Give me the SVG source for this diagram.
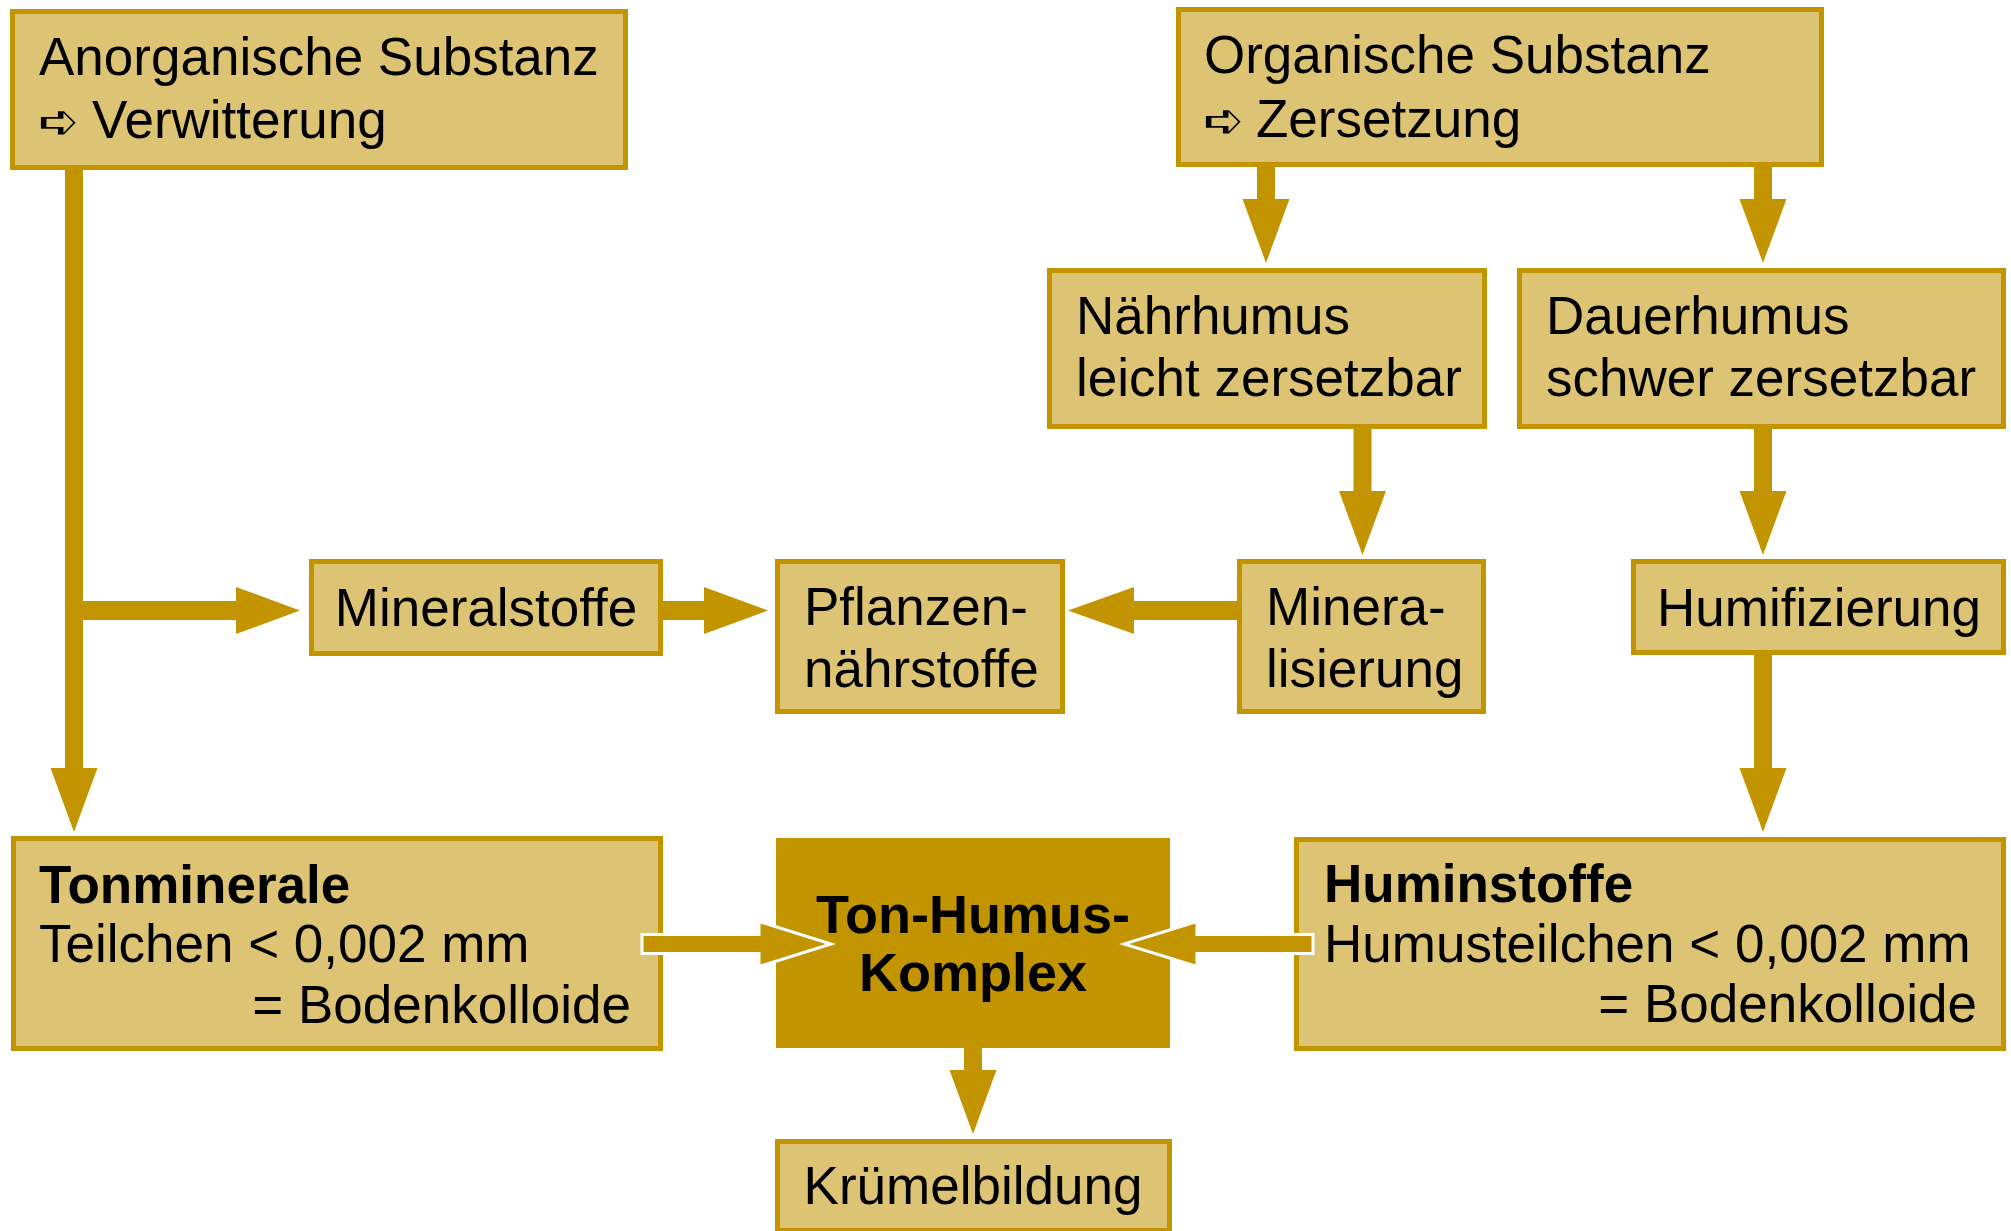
<svg xmlns="http://www.w3.org/2000/svg" width="2011" height="1231" viewBox="0 0 2011 1231">
<style>
  .box { fill: #DDC474; stroke: #C29400; stroke-width: 5; }
  .dark { fill: #C29400; }
  .arr { fill: #C29400; }
  .arrw { fill: #C29400; stroke: #FFFFFF; stroke-width: 3; stroke-linejoin: miter; }
  text { font-family: "Liberation Sans", Arial, Helvetica, sans-serif; font-size: 53px; fill: #000000; }
  .b { font-weight: bold; }
  .sym { font-family: "DejaVu Sans", sans-serif; font-size: 49px; }
</style>
<rect width="2011" height="1231" fill="#FFFFFF"/>

<g id="connectors">
  <!-- Anorganische -> Tonminerale (long vertical) -->
  <polygon class="arr" points="65,168 83,168 83,768 97.5,768 74,832 50.5,768 65,768"/>
  <!-- branch -> Mineralstoffe -->
  <polygon class="arr" points="83,601 236,601 236,587 300,610.5 236,634 236,620 83,620"/>
  <!-- Mineralstoffe -> Pflanzennaehrstoffe -->
  <polygon class="arr" points="661,601 704,601 704,587 768,610.5 704,634 704,620 661,620"/>
  <!-- Mineralisierung -> Pflanzennaehrstoffe -->
  <polygon class="arr" points="1239,601 1134,601 1134,587 1068,610.5 1134,634 1134,620 1239,620"/>
  <!-- Organische -> Naehrhumus -->
  <polygon class="arr" points="1257,165 1275,165 1275,199 1289.5,199 1266,263 1242.5,199 1257,199"/>
  <!-- Organische -> Dauerhumus -->
  <polygon class="arr" points="1754,165 1772,165 1772,199 1786.5,199 1763,263 1739.5,199 1754,199"/>
  <!-- Naehrhumus -> Mineralisierung -->
  <polygon class="arr" points="1353.5,427 1371.5,427 1371.5,491 1386,491 1362.5,555 1339,491 1353.5,491"/>
  <!-- Dauerhumus -> Humifizierung -->
  <polygon class="arr" points="1754,427 1772,427 1772,491 1786.5,491 1763,555 1739.5,491 1754,491"/>
  <!-- Humifizierung -> Huminstoffe -->
  <polygon class="arr" points="1754,653 1772,653 1772,768 1786.5,768 1763,832 1739.5,768 1754,768"/>
  <!-- Ton-Humus-Komplex -> Kruemelbildung -->
  <polygon class="arr" points="964,1046 982,1046 982,1070 996.5,1070 973,1134 949.5,1070 964,1070"/>
</g>

<g id="node-anorganisch">
  <rect class="box" x="12.5" y="11.5" width="613" height="156"/>
  <text x="39" y="75">Anorganische Substanz</text>
  <text y="138"><tspan class="sym" x="38">➪</tspan><tspan x="92">Verwitterung</tspan></text>
</g>

<g id="node-organisch">
  <rect class="box" x="1178.5" y="9.5" width="643" height="155"/>
  <text x="1204" y="73">Organische Substanz</text>
  <text y="137"><tspan class="sym" x="1203">➪</tspan><tspan x="1256">Zersetzung</tspan></text>
</g>

<g id="node-naehrhumus">
  <rect class="box" x="1049.5" y="270.5" width="435" height="156"/>
  <text x="1076" y="334">Nährhumus</text>
  <text x="1076" y="396">leicht zersetzbar</text>
</g>

<g id="node-dauerhumus">
  <rect class="box" x="1519.5" y="270.5" width="484" height="156"/>
  <text x="1546" y="334">Dauerhumus</text>
  <text x="1546" y="396">schwer zersetzbar</text>
</g>

<g id="node-mineralstoffe">
  <rect class="box" x="311.5" y="561.5" width="349" height="92"/>
  <text x="486" y="626" text-anchor="middle">Mineralstoffe</text>
</g>

<g id="node-pflanzennaehrstoffe">
  <rect class="box" x="777.5" y="561.5" width="285" height="150"/>
  <text x="804" y="625">Pflanzen-</text>
  <text x="804" y="687">nährstoffe</text>
</g>

<g id="node-mineralisierung">
  <rect class="box" x="1239.5" y="561.5" width="244" height="150"/>
  <text x="1266" y="625">Minera-</text>
  <text x="1266" y="687">lisierung</text>
</g>

<g id="node-humifizierung">
  <rect class="box" x="1633.5" y="561.5" width="370" height="91"/>
  <text x="1819" y="626" text-anchor="middle">Humifizierung</text>
</g>

<g id="node-tonminerale">
  <rect class="box" x="13.5" y="838.5" width="647" height="210"/>
  <text class="b" x="39" y="903">Tonminerale</text>
  <text x="39" y="962">Teilchen &lt; 0,002 mm</text>
  <text x="631" y="1023" text-anchor="end">= Bodenkolloide</text>
</g>

<g id="node-huminstoffe">
  <rect class="box" x="1296.5" y="839.5" width="707" height="209"/>
  <text class="b" x="1324" y="902">Huminstoffe</text>
  <text x="1324" y="962">Humusteilchen &lt; 0,002 mm</text>
  <text x="1977" y="1022" text-anchor="end">= Bodenkolloide</text>
</g>

<g id="node-ton-humus-komplex">
  <rect class="dark" x="776" y="838" width="394" height="210"/>
  <text class="b" x="973" y="933" text-anchor="middle" style="font-size:54px">Ton-Humus-</text>
  <text class="b" x="973" y="991" text-anchor="middle" style="font-size:54px">Komplex</text>
</g>

<g id="node-kruemelbildung">
  <rect class="box" x="777.5" y="1141.5" width="392" height="89"/>
  <text x="973" y="1204" text-anchor="middle">Krümelbildung</text>
</g>

<g id="connectors-overlay">
  <!-- Tonminerale -> Ton-Humus-Komplex -->
  <polygon class="arrw" points="642,934.5 759,934.5 759,921.5 831,944 759,966.5 759,953.5 642,953.5"/>
  <!-- Huminstoffe -> Ton-Humus-Komplex -->
  <polygon class="arrw" points="1313,934.5 1197,934.5 1197,921.5 1124,944 1197,966.5 1197,953.5 1313,953.5"/>
</g>
</svg>
